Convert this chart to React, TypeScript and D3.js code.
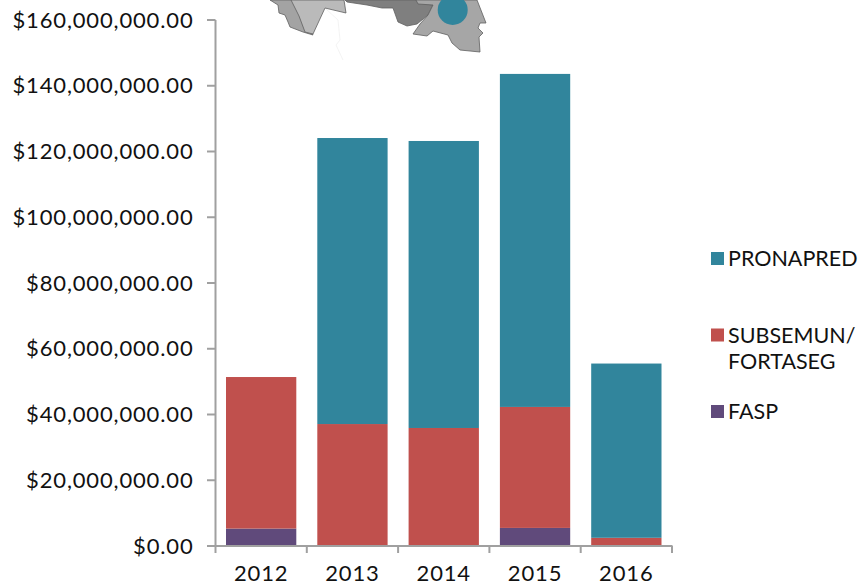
import React from "react";
import * as d3 from "d3";

const years = ["2012", "2013", "2014", "2015", "2016"];
const fasp = [5300000, 0, 0, 5500000, 0];
const subsemun = [46100000, 37100000, 35900000, 36800000, 2500000];
const pronapred = [0, 87000000, 87300000, 101300000, 53000000];
const yTicks = [0, 20, 40, 60, 80, 100, 120, 140, 160].map((m) => m * 1000000);

const seriesKeys = ["fasp", "subsemun", "pronapred"];
const seriesColors = ["#604a7b", "#c0504d", "#31859c"];

const legendItems = [
  { label: ["PRONAPRED"], color: "#31859c", y: 258.5 },
  { label: ["SUBSEMUN/", "FORTASEG"], color: "#c0504d", y: 335 },
  { label: ["FASP"], color: "#604a7b", y: 411.5 },
];

const mapShapes = [
  { fill: "#a3a3a3", pts: "270,0 278,5 279,13 285,15 288,22 290,27 303,32 313,35 300,0" },
  { fill: "#bababa", pts: "291,0 296,10 299,16 305,32 313,34 325,8 346,13 344,0" },
  { fill: "#7f7f7f", pts: "345,0 347,2 367,5 382,8 393,8 398,22 407,26 417,24 428,15 433,5 418,3 416,0" },
  { fill: "#a6a6a6", pts: "416,0 418,4 433,5 428,15 420,24 413,34 427,36 433,31 448,35 452,43 460,50 480,52 479,37 483,33 478,28 480,23 486,23 477,0" },
];
const mapFaintLines = ["326,9 338,20 340,40 336,45 343,60"];

const FONT = "'Lato', 'Open Sans', sans-serif";
const AXIS = "#a0a0a0";
const SPACING = 0.85;

export default function App() {
  const y = d3.scaleLinear().domain([0, 160000000]).range([546, 20]);
  const x = d3.scaleBand().domain(years).range([215.5, 672]).paddingInner(0.23).paddingOuter(0.115);
  const rows = years.map((year, i) => ({
    year,
    fasp: fasp[i],
    subsemun: subsemun[i],
    pronapred: pronapred[i],
  }));
  const stacked = d3.stack().keys(seriesKeys)(rows as any);
  const fmt = d3.format("$,.2f");
  const step = (672 - 215.5) / years.length;

  return (
    <svg
      width={858}
      height={585}
      style={{ position: "absolute", left: 0, top: 0, fontFamily: FONT }}
    >
      {mapShapes.map((s, i) => (
        <polygon key={i} points={s.pts} fill={s.fill} stroke="#5f5f5f" strokeWidth={0.8} />
      ))}
      {mapFaintLines.map((p) => (
        <polyline key={p} points={p} fill="none" stroke="#f0f0f0" strokeWidth={0.8} />
      ))}
      <circle cx={452.7} cy={10} r={15} fill="#31859c" />

      {stacked.map((layer, li) =>
        layer.map((d, i) =>
          d[1] > d[0] ? (
            <rect
              key={`${li}-${i}`}
              x={x(years[i])}
              width={x.bandwidth()}
              y={y(d[1])}
              height={y(d[0]) - y(d[1])}
              fill={seriesColors[li]}
            />
          ) : null
        )
      )}

      <line x1={215.5} x2={215.5} y1={20} y2={546} stroke={AXIS} strokeWidth={2} />
      <line x1={207} x2={672.5} y1={546} y2={546} stroke={AXIS} strokeWidth={2} />
      {yTicks.map((t) => (
        <g key={t}>
          <line x1={207} x2={215.5} y1={y(t)} y2={y(t)} stroke={AXIS} strokeWidth={2} />
          <text
            x={193.5}
            y={y(t) + 7.5}
            textAnchor="end"
            fontSize={22}
            letterSpacing={SPACING}
            fill="#111"
          >
            {fmt(t)}
          </text>
        </g>
      ))}
      {d3.range(years.length + 1).map((i) => (
        <line
          key={i}
          x1={215.5 + i * step}
          x2={215.5 + i * step}
          y1={546}
          y2={553}
          stroke={AXIS}
          strokeWidth={2}
        />
      ))}
      {years.map((yr) => (
        <text
          key={yr}
          x={(x(yr) as number) + x.bandwidth() / 2}
          y={580.5}
          textAnchor="middle"
          fontSize={22}
          letterSpacing={SPACING}
          fill="#111"
        >
          {yr}
        </text>
      ))}

      {legendItems.map((it) => (
        <g key={it.label[0]}>
          <rect x={711} y={it.y - 6.5} width={13} height={13} fill={it.color} />
          {it.label.map((line, i) => (
            <text key={line} x={728} y={it.y + 7.5 + i * 26} fontSize={21.5} fill="#111">
              {line}
            </text>
          ))}
        </g>
      ))}
    </svg>
  );
}
